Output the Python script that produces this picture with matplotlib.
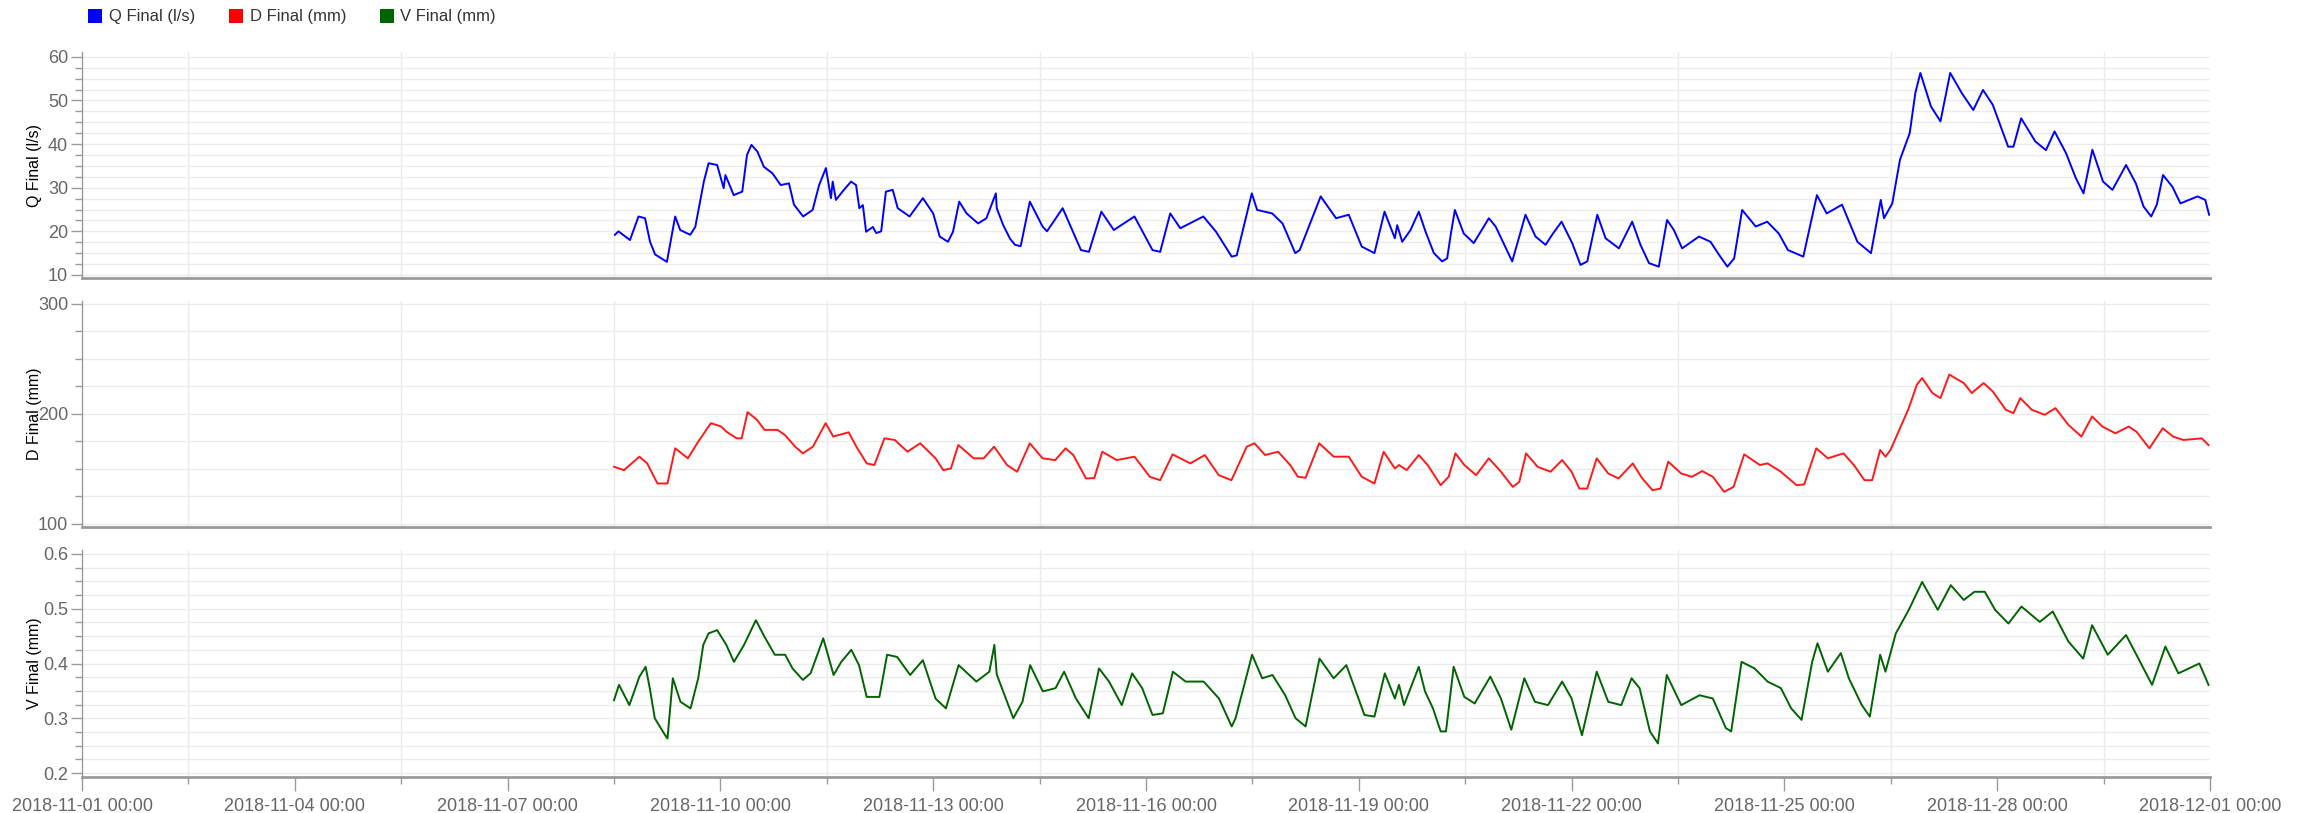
import matplotlib
matplotlib.use('Agg')
import matplotlib.pyplot as plt
from matplotlib.ticker import MultipleLocator, FixedLocator, FormatStrFormatter
from matplotlib.patches import Rectangle
import matplotlib.dates as mdates
import pandas as pd

plt.rcParams['font.family'] = ['Liberation Sans', 'DejaVu Sans']

# ---------------- data (hours after 2018-11-08 12:00) ----
data_start = '2018-11-08 12:00'

q_hours = [0.3, 1.5, 5.4, 8.3, 10.5, 12.2, 13.9, 17.9, 20.7, 22.4, 25.8, 27.5, 28.7, 30.4, 32.0,
           34.9, 37.1, 37.7, 40.5, 43.4, 45.0, 46.5, 48.5, 50.7, 53.6, 56.4, 59.2, 60.9, 64.0,
           67.2, 69.4, 71.7, 73.4, 74.0, 75.1, 77.3, 80.2, 81.9, 83.0, 84.2, 85.3, 87.6, 88.7,
           90.4, 92.0, 94.3, 96.0, 100.0, 104.5, 108.0, 110.2, 113.0, 114.7, 116.8, 119.3,
           123.2, 126.0, 129.2, 129.5, 131.7, 134.0, 135.7, 137.6,
           140.7, 145.0, 146.5, 151.8, 158.0, 160.7, 164.9, 169.1, 176.1, 182.2, 184.8, 188.2,
           191.6, 199.4, 203.7, 209.0, 210.7, 215.8, 217.6, 222.7, 226.2, 230.5, 232.0, 239.1,
           244.3, 248.6, 253.0, 257.3, 260.7, 264.2,
           265.0, 266.7, 269.5, 272.3, 274.6, 277.4, 280.2, 281.9, 283.0, 284.5, 287.5, 290.9,
           296.0, 298.3, 303.9, 308.4, 311.8, 315.2, 317.4, 320.6, 324.2, 327.0, 329.3, 332.7,
           335.5, 340.0, 344.5, 347.3, 350.2, 353.5, 356.3, 358.6, 361.4, 367.1, 371.0, 373.9,
           376.7, 379.0, 381.7, 386.3, 390.2, 394.1,
           397.2, 402.4, 407.0, 410.3, 415.5, 420.7, 425.3, 428.6, 429.7, 432.5, 435.1, 438.4,
           440.3, 442.0, 445.6, 448.8, 452.1, 456.0, 459.9, 463.2, 466.5, 471.7, 473.5, 476.1,
           480.9, 484.5, 487.4, 491.3, 494.6, 497.2, 500.2, 503.8, 507.0, 511.6, 514.9, 517.5,
           520.1, 522.0, 524.1, 527.3, 530.0, 535.8, 538.4, 539.7]
q_vals = [19.2, 20.0, 18.0, 23.4, 23.0, 17.6, 14.7, 13.0, 23.4, 20.3, 19.2, 21.0, 25.3, 31.4, 35.6,
          35.2, 29.9, 32.9, 28.3, 29.1, 37.5, 39.8, 38.3, 34.8, 33.3, 30.6, 31.0, 26.1, 23.4,
          24.9, 30.6, 34.5, 27.6, 31.4, 27.2, 29.1, 31.4, 30.6, 25.3, 26.0, 19.9, 21.0, 19.6,
          20.0, 29.1, 29.5, 25.3, 23.4, 27.6, 24.1, 18.8, 17.6, 19.9, 26.8, 24.1,
          21.8, 23.0, 28.7, 25.3, 21.4, 18.3, 16.9, 16.6,
          26.8, 21.1, 20.0, 25.3, 15.7, 15.3, 24.5, 20.3, 23.4, 15.7, 15.3, 24.1,
          20.7, 23.4, 19.9, 14.2, 14.5, 28.7, 24.9, 24.1, 21.8, 15.0, 15.7, 28.0,
          23.0, 23.8, 16.5, 15.0, 24.5, 18.4,
          21.4, 17.6, 20.3, 24.5, 19.9, 15.0, 13.1, 13.8, 18.8, 24.9, 19.5, 17.3,
          23.0, 21.1, 13.1, 23.8, 18.8, 16.9, 19.2, 22.2, 17.3, 12.3, 13.1, 23.8,
          18.4, 16.1, 22.2, 16.9, 12.7, 11.9, 22.6, 20.3, 16.1, 18.8, 17.6, 14.6,
          11.9, 13.8, 24.9, 21.1, 22.2, 19.5,
          15.7, 14.2, 28.3, 24.1, 26.1, 17.6, 15.0, 27.2, 23.0, 26.4, 36.4, 42.5,
          51.7, 56.3, 48.6, 45.2, 56.3, 51.7, 47.8, 52.4, 49.0, 39.4, 39.4, 45.9,
          40.6, 38.6, 42.9, 37.9, 32.2, 28.7, 38.7, 31.4, 29.5, 35.2, 31.0, 25.7,
          23.4, 26.1, 32.9, 30.2, 26.4, 28.0, 27.2, 23.8]

d_hours = [0.0, 3.4, 8.6, 11.2, 14.7, 18.1, 20.7, 25.0, 28.5, 32.8, 36.3, 38.0, 41.5, 43.2, 45.2,
           48.4, 50.9, 55.3, 57.8, 61.3, 63.9, 67.3, 71.6, 74.2, 79.4, 82.0, 85.5, 88.1, 91.5,
           95.0, 99.3, 103.6, 108.8, 111.4, 114.0, 116.5, 121.7, 125.1, 128.6, 133.0, 136.4,
           140.7, 145.0, 149.3, 152.8, 155.4, 159.7, 162.5, 165.2, 170.1, 176.1, 181.3, 184.8,
           189.0, 195.0, 199.9, 204.6, 208.9, 214.1, 216.7, 220.3, 224.7, 228.8, 231.4, 234.0,
           238.6, 243.5, 248.6, 253.0, 257.3, 260.4, 264.2,
           265.6, 268.2, 272.3, 275.3, 279.7, 282.4, 284.7, 287.7, 291.7, 296.0, 300.1, 304.1,
           306.3, 308.6, 312.5, 316.9, 320.8, 324.0, 326.6, 329.3, 332.5, 336.4, 339.9, 344.7,
           347.9, 351.4, 354.1, 356.7, 361.1, 364.7, 368.2, 371.8, 375.6, 378.8, 382.4, 387.7,
           390.3, 394.8, 400.1, 402.7, 406.8, 410.7, 416.0, 419.5, 423.1, 425.7, 428.4, 430.2,
           431.9, 434.6, 438.1, 440.8, 442.6, 446.1, 448.8, 451.8, 456.7, 459.4, 463.4, 466.5,
           470.9, 473.5, 475.8, 479.7, 484.1, 487.7, 492.1, 496.5, 500.1, 503.6, 508.0, 512.5,
           515.1, 519.5, 524.0, 527.5, 531.0, 537.2, 539.5]
d_vals = [151.8, 148.8, 161.0, 155.0, 136.6, 136.6, 168.6, 159.5, 174.7, 191.5, 188.4, 183.8, 177.7,
          177.7, 201.5, 194.5, 185.4, 185.4, 180.8, 170.1, 164.0, 170.1, 191.5, 179.3, 183.2,
          170.1, 154.9, 153.4, 177.7, 176.2, 165.5, 173.2, 159.5, 148.8, 150.3, 171.6, 159.5,
          159.5, 170.1, 153.4, 147.3, 173.2, 159.5, 157.9, 168.6, 162.5, 141.2, 141.5, 165.5,
          157.9, 161.0, 142.7, 139.6, 163.1, 154.9, 162.5, 144.2, 139.6, 170.1, 173.2, 162.5,
          165.5, 153.4, 142.7, 141.8, 173.2, 161.0, 161.0, 142.7, 136.6, 165.5, 150.3,
          153.4, 148.8, 162.5, 153.4, 135.1, 142.7, 164.0, 153.4, 144.2, 159.5, 147.3, 133.5,
          138.1, 164.0, 151.8, 147.3, 157.9, 147.3, 132.0, 132.0, 159.5, 145.7, 141.2, 154.9,
          141.2, 130.5, 132.0, 156.4, 145.7, 142.7, 147.9, 142.7, 129.0, 133.5, 163.1, 153.4,
          154.9, 147.3, 135.1, 135.7, 168.6, 159.5, 164.0, 153.4, 139.6, 139.6, 167.1, 161.0,
          167.1, 183.8, 205.2, 226.5, 232.6, 218.9, 214.3, 235.7, 228.0, 218.9, 228.0, 220.4,
          203.7, 200.6, 214.3, 203.7, 199.1, 205.2, 189.9, 179.3, 197.6, 188.4, 182.3, 188.4,
          183.8, 168.6, 186.9, 179.3, 176.2, 177.7, 171.6]

v_hours = [0.0, 1.7, 5.2, 8.6, 10.7, 12.1, 13.8, 17.3, 18.1, 19.9, 22.5, 25.9, 28.5, 30.2, 32.0,
           34.9, 38.0, 40.6, 44.0, 48.0, 50.9, 54.4, 57.9, 60.4, 63.9, 66.5, 70.8, 74.3, 76.9,
           80.3, 82.9, 85.5, 89.8, 92.4, 95.8, 100.2, 104.5, 108.8, 112.3, 116.6, 122.6, 127.0,
           128.7, 129.5, 133.0, 135.1, 138.2, 140.8, 145.1, 149.4, 152.3, 156.3, 160.6, 164.1,
           167.5, 171.8, 175.3, 178.7, 182.2, 185.7, 189.1, 193.4, 199.5, 204.7, 209.0, 210.3,
           215.9, 219.3, 222.8, 227.1, 230.6, 234.0, 238.7, 243.5, 247.8, 253.9, 257.3, 260.8,
           264.2,
           265.6, 267.3, 272.3, 274.4, 277.1, 279.7, 281.5, 284.1, 287.7, 291.2, 296.5, 300.1,
           303.6, 308.0, 311.6, 316.0, 320.8, 324.0, 327.5, 332.5, 336.4, 340.8, 344.3, 347.0,
           350.5, 353.2, 356.2, 361.1, 367.3, 371.8, 376.2, 378.0, 381.5, 385.9, 390.3, 394.8,
           398.3, 401.8, 405.4, 407.2, 410.7, 415.1, 417.8, 422.2, 424.9, 428.4, 430.2, 433.7,
           438.1, 442.6, 447.9, 452.3, 456.7, 460.3, 463.8, 467.3, 471.8, 476.2, 482.4, 486.8,
           492.1, 497.1, 500.1, 505.4, 511.6, 515.1, 520.4, 524.9, 529.3, 536.4, 539.5]
v_vals = [0.333, 0.361, 0.324, 0.376, 0.394, 0.355, 0.300, 0.269, 0.263, 0.373, 0.330, 0.318, 0.373,
          0.434, 0.455, 0.461, 0.434, 0.403, 0.434, 0.479, 0.449, 0.416, 0.416, 0.391, 0.370,
          0.382, 0.446, 0.379, 0.403, 0.425, 0.397, 0.339, 0.339, 0.416, 0.412, 0.379, 0.406,
          0.336, 0.318, 0.397, 0.367, 0.385, 0.434, 0.380, 0.330, 0.300, 0.330, 0.397, 0.349,
          0.355, 0.385, 0.336, 0.300, 0.391, 0.367, 0.324, 0.382, 0.355, 0.306, 0.309, 0.385,
          0.367, 0.367, 0.336, 0.285, 0.300, 0.416, 0.373, 0.379, 0.342, 0.300, 0.285, 0.409,
          0.373, 0.397, 0.306, 0.303, 0.382, 0.336,
          0.361, 0.324, 0.394, 0.349, 0.318, 0.276, 0.276, 0.394, 0.339, 0.327, 0.376, 0.336,
          0.279, 0.373, 0.330, 0.324, 0.367, 0.336, 0.269, 0.385, 0.330, 0.324, 0.373, 0.355,
          0.276, 0.254, 0.379, 0.324, 0.342, 0.336, 0.282, 0.276, 0.403, 0.391, 0.367, 0.355,
          0.318, 0.297, 0.403, 0.437, 0.385, 0.419, 0.373, 0.324, 0.303, 0.416, 0.385, 0.455,
          0.498, 0.549, 0.498, 0.543, 0.516, 0.531, 0.531, 0.498, 0.473, 0.504, 0.476, 0.495,
          0.440, 0.409, 0.470, 0.416, 0.452, 0.416, 0.361, 0.431, 0.382, 0.400, 0.361]

series_names = ['Q Final (l/s)', 'D Final (mm)', 'V Final (mm)']
x_start, x_end = '2018-11-01', '2018-12-01'

# ---------------- figure ----------------
colors = ['#0000ff', '#ff1a1a', '#006400']
legend_colors = ['#0000ff', '#ff0000', '#006400']
t0 = pd.Timestamp(data_start)
series = [(q_hours, q_vals), (d_hours, d_vals), (v_hours, v_vals)]

W, H = 2306, 813
fig = plt.figure(figsize=(W / 100, H / 100), dpi=100)
left, width = 82 / W, (2210 - 82) / W
rects = [(left, 1 - 278 / H, width, 226 / H),
         (left, 1 - 527 / H, width, 226 / H),
         (left, 1 - 777 / H, width, 227 / H)]
ylims = [(9.3, 61.1), (97.0, 302.7), (0.1927, 0.6073)]
majors = [10, 100, 0.1]
minors = [2.5, 25, 0.025]
fmts = ['%d', '%d', '%.1f']

major_x = pd.date_range(x_start, x_end, freq='3D')
minor_x = major_x[:-1] + pd.Timedelta(hours=36)
grid_c = '#ebebeb'
axis_c = '#9a9a9a'
tick_text_c = '#666666'

for i, ((hrs, vals), name) in enumerate(zip(series, series_names)):
    ax = fig.add_axes(rects[i])
    times = t0 + pd.to_timedelta(hrs, unit='h')
    ax.plot(times, vals, color=colors[i], lw=1.4, zorder=3, solid_joinstyle='round')
    ax.set_xlim(pd.Timestamp(x_start), pd.Timestamp(x_end))
    ax.set_ylim(*ylims[i])
    ax.yaxis.set_major_locator(MultipleLocator(majors[i]))
    ax.yaxis.set_minor_locator(MultipleLocator(minors[i]))
    ax.yaxis.set_major_formatter(FormatStrFormatter(fmts[i]))
    ax.xaxis.set_major_locator(FixedLocator(mdates.date2num(major_x)))
    ax.xaxis.set_minor_locator(FixedLocator(mdates.date2num(minor_x)))
    ax.xaxis.set_major_formatter(mdates.DateFormatter('%Y-%m-%d %H:%M'))
    ax.grid(which='both', axis='y', color=grid_c, lw=1.0, zorder=0)
    ax.grid(which='minor', axis='x', color=grid_c, lw=1.0, zorder=0)
    ax.grid(which='major', axis='x', visible=False)
    for s in ['top', 'right']:
        ax.spines[s].set_visible(False)
    ax.spines['left'].set_color(axis_c)
    ax.spines['left'].set_linewidth(1.0)
    ax.spines['bottom'].set_color(axis_c)
    ax.spines['bottom'].set_linewidth(2.0)
    ax.tick_params(axis='y', which='major', length=8, width=1, color=axis_c,
                   labelsize=13, labelcolor=tick_text_c, pad=2)
    ax.tick_params(axis='y', which='minor', length=5, width=1, color=axis_c)
    if i < 2:
        ax.tick_params(axis='x', which='both', length=0, labelbottom=False)
    else:
        ax.tick_params(axis='x', which='major', length=10, width=1, color=axis_c,
                       labelsize=13, labelcolor=tick_text_c, pad=5)
        ax.tick_params(axis='x', which='minor', length=5, width=1, color=axis_c)
    ax.set_ylabel(name, fontsize=11.5, color='black')
    ax.yaxis.set_label_coords(-40 / 2128, 0.5)

# legend: coloured squares + labels across the top
sq_x = [88, 229, 380]
txt_x = [109, 250, 400]
sq_size = 14
y_c = 16
for c, name, sx, tx in zip(legend_colors, series_names, sq_x, txt_x):
    fig.patches.append(Rectangle((sx / W, 1 - (y_c + sq_size / 2) / H), sq_size / W, sq_size / H,
                                 transform=fig.transFigure, facecolor=c, edgecolor='none'))
    fig.text(tx / W, 1 - y_c / H, name, fontsize=12, color='#333333', va='center', ha='left')

fig.savefig('out.png', dpi=100, facecolor='white')
